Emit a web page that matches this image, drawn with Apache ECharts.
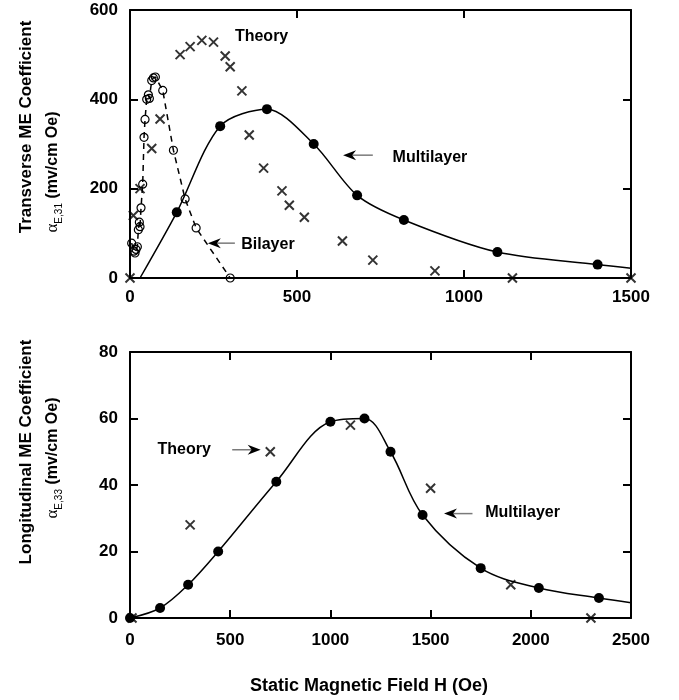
<!DOCTYPE html>
<html>
<head>
<meta charset="utf-8">
<script src="https://cdn.jsdelivr.net/npm/echarts@6/dist/echarts.min.js"></script>
<style>
  html, body { margin: 0; padding: 0; background: #fff; }
  #chart { width: 679px; height: 700px; }
</style>
</head>
<body>
<div id="chart"></div>
<script>
// ---- Transverse coefficient α_E,31 (upper panel) ----
const transBilayerH = [5, 12, 15, 18, 22, 25, 28, 30, 33, 38, 42, 45, 50, 55, 58, 65, 70, 76, 98, 130, 165, 198, 300];
const transBilayerA = [78, 60, 56, 64, 70, 108, 125, 115, 157, 210, 315, 355, 400, 410, 402, 442, 448, 450, 420, 286, 177, 112, 0];

const transMultiH = [30, 140, 270, 410, 550, 680, 820, 1100, 1400, 1500];
const transMultiA = [0, 147, 340, 378, 300, 185, 130, 58, 30, 22];
const transMultiMarked = [false, true, true, true, true, true, true, true, true, false];

const transTheoryH = [0, 10, 30, 65, 90, 150, 180, 215, 250, 285, 300, 335, 357, 400, 455, 477, 522, 636, 727, 913, 1145, 1500];
const transTheoryA = [0, 140, 200, 290, 356, 500, 518, 532, 528, 497, 473, 419, 320, 246, 195, 163, 136, 83, 40, 16, 0, 0];

// ---- Longitudinal coefficient α_E,33 (lower panel) ----
const longMultiH = [0, 150, 290, 440, 730, 1000, 1170, 1300, 1460, 1750, 2040, 2340, 2500];
const longMultiA = [0, 3, 10, 20, 41, 59, 60, 50, 31, 15, 9, 6, 4.6];
const longMultiMarked = [true, true, true, true, true, true, true, true, true, true, true, true, false];

const longTheoryH = [10, 300, 700, 1100, 1500, 1900, 2300];
const longTheoryA = [0, 28, 50, 58, 39, 10, 0];

// ---- axis ticks ----
const transXTicks = [0, 500, 1000, 1500];
const transYTicks = [0, 200, 400, 600];
const longXTicks = [0, 500, 1000, 1500, 2000, 2500];
const longYTicks = [0, 20, 40, 60, 80];

// ---- callout texts and arrows, anchored in data units ----
const notes = [
  { panel: 0, text: 'Theory', at: [394, 540] },
  { panel: 0, text: 'Multilayer', at: [898, 269], arrow: [[727, 275], [638, 275]] },
  { panel: 0, text: 'Bilayer', at: [413, 74], arrow: [[314, 78], [233, 78]] },
  { panel: 1, text: 'Theory', at: [270, 50.6], arrow: [[510, 50.6], [652, 50.6]] },
  { panel: 1, text: 'Multilayer', at: [1959, 31.7], arrow: [[1709, 31.4], [1567, 31.4]] }
];

const FONT = '"Liberation Sans", Arial, Helvetica, sans-serif';
const zip = (xs, ys) => xs.map((x, i) => [x, ys[i]]);
const markedLine = (xs, ys, marks) => xs.map((x, i) => marks[i] ? [x, ys[i]] : { value: [x, ys[i]], symbol: 'none' });

const X_MARK = 'path://M0,0L10,10M10,0L0,10';

function xAxes(grid, ticks, pos, labelGap) {
  return {
    gridIndex: grid, type: 'value', position: pos,
    min: ticks[0], max: ticks[ticks.length - 1], interval: ticks[1] - ticks[0],
    axisLine: { show: true, onZero: false, lineStyle: { color: '#000', width: 2 } },
    axisTick: { show: true, inside: true, length: 8, lineStyle: { color: '#000', width: 2 } },
    axisLabel: pos === 'bottom'
      ? { show: true, color: '#000', fontFamily: FONT, fontWeight: 'bold', fontSize: 17, margin: labelGap, formatter: v => String(v) }
      : { show: false },
    splitLine: { show: false }
  };
}
function yAxes(grid, ticks, pos) {
  return {
    gridIndex: grid, type: 'value', position: pos,
    min: ticks[0], max: ticks[ticks.length - 1], interval: ticks[1] - ticks[0],
    axisLine: { show: true, onZero: false, lineStyle: { color: '#000', width: 2 } },
    axisTick: { show: true, inside: true, length: 8, lineStyle: { color: '#000', width: 2 } },
    axisLabel: pos === 'left'
      ? { show: true, color: '#000', fontFamily: FONT, fontWeight: 'bold', fontSize: 17, margin: 12, formatter: v => String(v) }
      : { show: false },
    splitLine: { show: false }
  };
}

const xStyle = { color: 'transparent', borderColor: '#000', borderWidth: 2 };

const chart = echarts.init(document.getElementById('chart'), null, { renderer: 'canvas' });

chart.setOption({
  animation: false,
  backgroundColor: '#fff',
  grid: [
    { left: 130, top: 10, width: 501, height: 268 },
    { left: 130, top: 352, width: 501, height: 266 }
  ],
  xAxis: [
    xAxes(0, transXTicks, 'bottom', 11),
    xAxes(0, transXTicks, 'top'),
    xAxes(1, longXTicks, 'bottom', 14),
    xAxes(1, longXTicks, 'top')
  ],
  yAxis: [
    yAxes(0, transYTicks, 'left'),
    yAxes(0, transYTicks, 'right'),
    yAxes(1, longYTicks, 'left'),
    yAxes(1, longYTicks, 'right')
  ],
  series: [
    {
      name: 'Bilayer', type: 'line', xAxisIndex: 0, yAxisIndex: 0,
      data: zip(transBilayerH, transBilayerA),
      symbol: 'circle', symbolSize: 8,
      itemStyle: { color: 'transparent', borderColor: '#000', borderWidth: 1.2 },
      lineStyle: { color: '#000', width: 1.5, type: [6, 5] },
      clip: false, z: 3
    },
    {
      name: 'Multilayer', type: 'line', xAxisIndex: 0, yAxisIndex: 0,
      data: markedLine(transMultiH, transMultiA, transMultiMarked),
      smooth: 0.3, symbol: 'circle', symbolSize: 10,
      itemStyle: { color: '#000' },
      lineStyle: { color: '#000', width: 1.5 },
      z: 4
    },
    {
      name: 'Theory', type: 'scatter', xAxisIndex: 0, yAxisIndex: 0,
      data: zip(transTheoryH, transTheoryA),
      symbol: X_MARK, symbolSize: 9, itemStyle: xStyle, clip: false, z: 5
    },
    {
      name: 'Theory L', type: 'scatter', xAxisIndex: 2, yAxisIndex: 2,
      data: zip(longTheoryH, longTheoryA),
      symbol: X_MARK, symbolSize: 9, itemStyle: xStyle, clip: false, z: 3
    },
    {
      name: 'Multilayer L', type: 'line', xAxisIndex: 2, yAxisIndex: 2,
      data: markedLine(longMultiH, longMultiA, longMultiMarked),
      smooth: 0.35, symbol: 'circle', symbolSize: 10,
      itemStyle: { color: '#000' },
      lineStyle: { color: '#000', width: 1.5 },
      clip: false, z: 4
    }
  ]
});

// ---- overlay: axis titles and callouts ----
const graphics = [];

graphics.push({
  type: 'text', x: 369, y: 686,
  style: { text: 'Static Magnetic Field H (Oe)', font: 'bold 18px ' + FONT, fill: '#000', textAlign: 'center', textVerticalAlign: 'middle' }
});

function yTitle(cx1, cy1, line1, cx2, cy2, sub) {
  graphics.push({
    type: 'text', x: cx1, y: cy1, rotation: Math.PI / 2,
    style: { text: line1, font: 'bold 17px ' + FONT, fill: '#000', textAlign: 'center', textVerticalAlign: 'middle' }
  });
  graphics.push({
    type: 'text', x: cx2, y: cy2, rotation: Math.PI / 2,
    style: {
      text: '{a|α}{s|' + sub + '}{u| (mv/cm Oe)}',
      textAlign: 'center', textVerticalAlign: 'middle',
      rich: {
        a: { fontFamily: '"Liberation Serif", "DejaVu Serif", serif', fontSize: 17, fill: '#000', lineHeight: 26, verticalAlign: 'middle' },
        s: { fontFamily: FONT, fontSize: 10, fill: '#000', lineHeight: 26, verticalAlign: 'bottom', padding: [0, 0, 2, 0] },
        u: { fontFamily: FONT, fontWeight: 'bold', fontSize: 16, fill: '#000', lineHeight: 26, verticalAlign: 'middle' }
      }
    }
  });
}
yTitle(26, 127, 'Transverse ME Coefficient', 53, 172, 'E,31');
yTitle(26, 452, 'Longitudinal ME Coefficient', 53, 458, 'E,33');

notes.forEach(n => {
  const finder = { xAxisIndex: n.panel * 2, yAxisIndex: n.panel * 2 };
  const p = chart.convertToPixel(finder, n.at);
  graphics.push({
    type: 'text', x: p[0], y: p[1],
    style: { text: n.text, font: 'bold 16px ' + FONT, fill: '#000', textAlign: 'center', textVerticalAlign: 'middle' }
  });
  if (n.arrow) {
    const a = chart.convertToPixel(finder, n.arrow[0]);
    const b = chart.convertToPixel(finder, n.arrow[1]);
    const dir = Math.sign(b[0] - a[0]);
    const headLen = 13, half = 5, notch = 4;
    graphics.push({
      type: 'line',
      shape: { x1: a[0], y1: a[1], x2: b[0] - dir * headLen * 0.6, y2: b[1] },
      style: { stroke: '#7a7a7a', lineWidth: 1.5 }
    });
    graphics.push({
      type: 'polygon',
      shape: { points: [
        [b[0], b[1]],
        [b[0] - dir * headLen, b[1] - half],
        [b[0] - dir * (headLen - notch), b[1]],
        [b[0] - dir * headLen, b[1] + half]
      ] },
      style: { fill: '#000' }
    });
  }
});

chart.setOption({ graphic: graphics });
</script>
</body>
</html>
